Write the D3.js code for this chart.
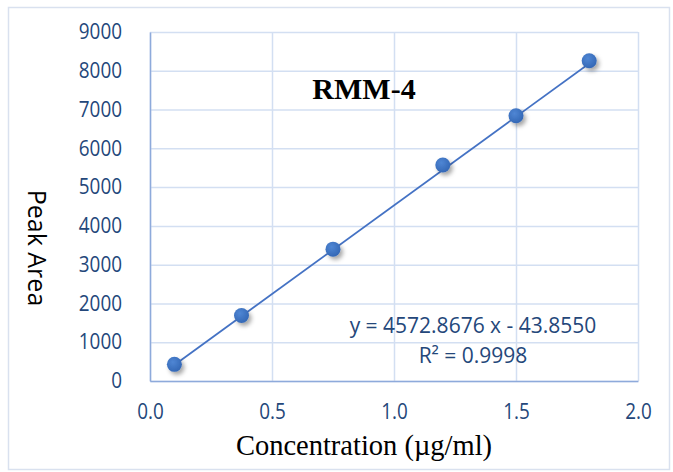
<!DOCTYPE html>
<html>
<head>
<meta charset="utf-8">
<script src="https://cdn.jsdelivr.net/npm/d3@7/dist/d3.min.js"></script>
<style>
  html, body { margin: 0; padding: 0; background: #fff; }
  svg { display: block; }
</style>
</head>
<body>
<svg id="chart" width="673" height="472"></svg>
<script>
// ---- data ----
const concentrations = [0.1, 0.375, 0.75, 1.2, 1.5, 1.8];
const peakAreas = [430, 1690, 3400, 5570, 6840, 8260];
const xTicks = [0.0, 0.5, 1.0, 1.5, 2.0];
const yTicks = [0, 1000, 2000, 3000, 4000, 5000, 6000, 7000, 8000, 9000];
const slope = 4572.8676;
const intercept = -43.8550;
const chartTitle = "RMM-4";
const xTitle = "Concentration (µg/ml)";
const yTitle = "Peak Area";
const eqText = "y = 4572.8676 x - 43.8550";
const r2Text = "R² = 0.9998";

// ---- layout ----
const svg = d3.select("#chart");
const L = 150, R = 638, T = 32, B = 381;
const x = d3.scaleLinear().domain([0, 2]).range([L, R]);
const y = d3.scaleLinear().domain([0, 9000]).range([B, T]);

const tickColor = "#24477a";
const gridColor = "#d3dff2";
const axisColor = "#8eaadb";
const sx = 0.9;

// outer chart border
svg.append("rect").attr("x", 8.5).attr("y", 7.5).attr("width", 661).attr("height", 462)
  .attr("fill", "#fff").attr("stroke", "#d9e1ef").attr("stroke-width", 1.5);

const defs = svg.append("defs");
const grad = defs.append("radialGradient").attr("id", "mk").attr("cx", "40%").attr("cy", "35%").attr("r", "65%");
grad.append("stop").attr("offset", "0%").attr("stop-color", "#4f86d4");
grad.append("stop").attr("offset", "100%").attr("stop-color", "#3468b6");
const f = defs.append("filter").attr("id", "sh").attr("x", "-50%").attr("y", "-50%").attr("width", "200%").attr("height", "200%");
f.append("feDropShadow").attr("dx", 2.5).attr("dy", 3).attr("stdDeviation", 2)
  .attr("flood-color", "#000").attr("flood-opacity", 0.35);

// grid
const gx = svg.append("g")
  .attr("transform", `translate(0,${T})`)
  .call(d3.axisBottom(x).tickValues(xTicks).tickSize(B - T).tickFormat(""));
gx.select(".domain").remove();
gx.selectAll("line").attr("stroke", gridColor).attr("stroke-width", 1.5);

const gy = svg.append("g")
  .attr("transform", `translate(${L},0)`)
  .call(d3.axisRight(y).tickValues(yTicks).tickSize(R - L).tickFormat(""));
gy.select(".domain").remove();
gy.selectAll("line").attr("stroke", gridColor).attr("stroke-width", 1.5);

// axes
const ax = svg.append("g")
  .attr("transform", `translate(0,${B})`)
  .call(d3.axisBottom(x).tickValues(xTicks).tickSize(0).tickPadding(23).tickFormat(d3.format(".1f")));
ax.select(".domain").attr("stroke", axisColor).attr("stroke-width", 1.5);
ax.selectAll("text").attr("fill", tickColor).style("font-family", "'Open Sans'").style("font-size", "21px")
  .attr("transform", `scale(${sx},1)`);

const ay = svg.append("g")
  .attr("transform", `translate(${L},0)`)
  .call(d3.axisLeft(y).tickValues(yTicks).tickSize(0).tickFormat(d3.format("d")));
ay.select(".domain").attr("stroke", axisColor).attr("stroke-width", 1.5);
ay.selectAll("text").attr("fill", tickColor).style("font-family", "'Open Sans'").style("font-size", "21px")
  .attr("x", -28 / sx).attr("transform", `scale(${sx},1)`);

// trendline
const xr = d3.extent(concentrations);
svg.append("line")
  .attr("x1", x(xr[0])).attr("y1", y(slope * xr[0] + intercept))
  .attr("x2", x(xr[1])).attr("y2", y(slope * xr[1] + intercept))
  .attr("stroke", "#4472c4").attr("stroke-width", 1.75);

// markers
svg.append("g").selectAll("circle")
  .data(concentrations.map((c, i) => [c, peakAreas[i]]))
  .join("circle")
  .attr("cx", d => x(d[0])).attr("cy", d => y(d[1])).attr("r", 7.5)
  .attr("fill", "url(#mk)").attr("filter", "url(#sh)");

// title
svg.append("text").attr("x", 364).attr("y", 99).attr("text-anchor", "middle")
  .style("font-family", "'Liberation Serif'").style("font-weight", "bold").style("font-size", "30px")
  .attr("fill", "#000").text(chartTitle);

// equation
svg.append("text").attr("x", 473).attr("y", 333).attr("text-anchor", "middle")
  .style("font-family", "'Open Sans'").style("font-size", "21px").attr("fill", tickColor).text(eqText);
svg.append("text").attr("x", 473).attr("y", 363).attr("text-anchor", "middle")
  .style("font-family", "'Open Sans'").style("font-size", "21px").attr("fill", tickColor).text(r2Text);

// axis titles
svg.append("text").attr("transform", "translate(28,248) rotate(90)").attr("text-anchor", "middle")
  .style("font-family", "'Open Sans'").style("font-size", "25px").attr("fill", "#000").text(yTitle);

svg.append("text").attr("x", 364).attr("y", 455).attr("text-anchor", "middle")
  .style("font-family", "'Liberation Serif'").style("font-size", "28.5px").attr("fill", "#000").text(xTitle);
</script>
</body>
</html>
